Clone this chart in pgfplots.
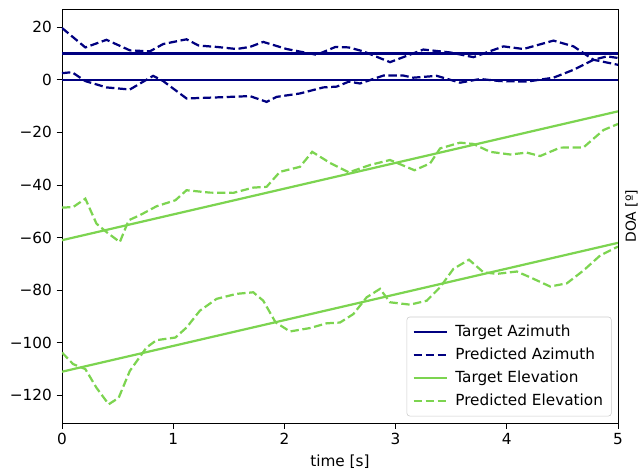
\documentclass[border=0pt]{standalone}
\usepackage{fontspec}
\setmainfont{DejaVu Sans}
\usepackage{pgfplots}
\pgfplotsset{compat=1.18}
\definecolor{azi}{RGB}{0,0,128}
\definecolor{ele}{RGB}{124,212,80}

\begin{document}
\begin{tikzpicture}
\begin{axis}[
    scale only axis,
    width=400pt, height=298pt,
    xmin=0, xmax=5,
    ymin=-130.6, ymax=26.9,
    xtick={0,1,2,3,4,5},
    ytick={-120,-100,-80,-60,-40,-20,0,20},
    yticklabels={−120,−100,−80,−60,−40,−20,0,20},
    /pgf/number format/assume math mode=true,
    tick align=outside,
    major tick length=3.8pt,
    xtick pos=bottom, ytick pos=left,
    tick style={black, line width=0.65pt},
    axis line style={line width=0.65pt},
    ticklabel style={font=\fontsize{11}{13}\selectfont},
    label style={font=\fontsize{11}{13}\selectfont},
    xlabel={time [s]},
    ylabel={DOA [º]},
    every axis y label/.style={at={(rel axis cs:1,0.5)}, rotate=90, anchor=north, inner sep=0pt, yshift=-5pt},
    legend style={at={(rel axis cs:1,0)}, anchor=south east, xshift=-4.6pt, yshift=5pt,
        draw=black!20, rounded corners=2pt, fill=white, fill opacity=0.8, text opacity=1,
        font=\fontsize{11}{13}\selectfont, row sep=2.6pt, inner xsep=4pt, inner ysep=4pt,
        /tikz/every odd column/.append style={column sep=3.5pt}},
    legend cell align=left,
    legend image code/.code={\draw[#1] (0pt,0pt) -- (23.7pt,0pt);},
    every axis plot/.append style={line width=1.6pt},
]
\coordinate (sw) at (rel axis cs:0,0);
\coordinate (ne) at (rel axis cs:1,1);
% target azimuth (two sources)
\addplot[azi] coordinates {(0,10) (5,10)};
\addlegendentry{Target Azimuth}
\addplot[azi, forget plot] coordinates {(0,0) (5,0)};
% predicted azimuth
\addplot[azi, dash pattern=on 6pt off 2.6pt] coordinates {
(0,19.7) (0.21,12.3) (0.40,15.2) (0.61,11.2) (0.79,10.8) (0.91,13.6) (1.12,15.4)
(1.23,13.0) (1.39,12.5) (1.57,11.7) (1.69,12.5) (1.81,14.4) (2.02,11.7) (2.29,9.5)
(2.46,12.5) (2.58,12.3) (2.71,10.8) (2.95,6.7) (3.25,11.5) (3.49,10.4) (3.70,8.6)
(3.97,12.7) (4.15,11.7) (4.42,14.9) (4.60,12.7) (4.78,7.6) (5,5.7)};
\addlegendentry{Predicted Azimuth}
\addplot[azi, dash pattern=on 6pt off 2.6pt, forget plot] coordinates {
(0,2.5) (0.09,2.9) (0.21,-0.5) (0.40,-2.9) (0.61,-3.7) (0.82,1.5) (0.91,-0.5)
(1.12,-7.1) (1.39,-6.7) (1.69,-6.2) (1.84,-8.4) (1.93,-6.5) (2.14,-5.2) (2.35,-2.9)
(2.47,-2.6) (2.58,-0.7) (2.68,-1.4) (2.89,1.6) (3.07,1.6) (3.16,0.8) (3.37,1.5)
(3.58,-1.1) (3.76,0.3) (3.94,-0.5) (4.18,-0.7) (4.42,0.8) (4.60,3.8) (4.78,7.6)
(4.90,8.9) (5,8.3)};
% target elevation
\addplot[ele] coordinates {(0,-61) (5,-12)};
\addlegendentry{Target Elevation}
\addplot[ele, forget plot] coordinates {(0,-111) (5,-62)};
% predicted elevation
\addplot[ele, dash pattern=on 6pt off 2.6pt] coordinates {
(0,-48.6) (0.10,-48.4) (0.21,-45.2) (0.31,-54.7) (0.40,-57.9) (0.52,-61.7) (0.60,-53.4)
(0.70,-51.5) (0.85,-48.1) (1.02,-45.8) (1.12,-42.0) (1.33,-42.9) (1.54,-43.0) (1.72,-41.0)
(1.84,-40.7) (1.96,-35.0) (2.14,-33.1) (2.25,-27.4) (2.41,-31.6) (2.58,-35.2) (2.77,-32.4)
(2.95,-30.5) (3.17,-34.4) (3.31,-31.8) (3.40,-26.1) (3.58,-23.9) (3.70,-24.4) (3.85,-27.4)
(4.03,-28.4) (4.18,-27.7) (4.30,-29.0) (4.48,-25.8) (4.69,-25.7) (4.87,-19.1) (5,-16.8)};
\addlegendentry{Predicted Elevation}
\addplot[ele, dash pattern=on 6pt off 2.6pt, forget plot] coordinates {
(0,-103.7) (0.10,-108.1) (0.21,-110.0) (0.31,-117.1) (0.42,-123.4) (0.51,-120.9)
(0.61,-110.7) (0.76,-101.8) (0.85,-99.0) (1.02,-98.0) (1.12,-94.2) (1.24,-87.8)
(1.39,-83.3) (1.57,-81.4) (1.72,-80.8) (1.81,-84.0) (1.92,-92.2) (2.05,-95.7)
(2.23,-94.4) (2.38,-92.6) (2.50,-92.3) (2.62,-89.1) (2.74,-82.7) (2.86,-79.5)
(2.95,-84.6) (3.13,-85.5) (3.28,-84.0) (3.40,-78.9) (3.52,-71.9) (3.66,-68.4)
(3.79,-73.2) (3.91,-73.8) (4.09,-72.9) (4.21,-75.1) (4.39,-78.6) (4.54,-77.4)
(4.69,-72.5) (4.84,-66.8) (5,-63.4)};
\end{axis}
\pgfresetboundingbox
\path ([shift={(-44.6pt,-33.8pt)}]sw) rectangle ([shift={(14.4pt,6.5pt)}]ne);
\end{tikzpicture}
\end{document}
